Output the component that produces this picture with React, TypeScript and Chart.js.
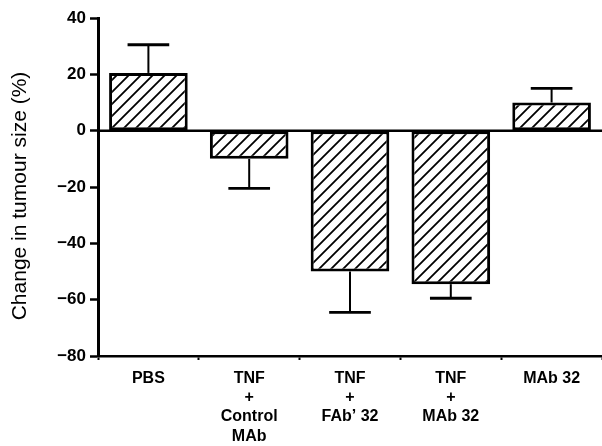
import React, { useEffect, useRef } from "react";
import { Chart, registerables } from "chart.js";
Chart.register(...registerables);

const categories: string[][] = [
  ["PBS"],
  ["TNF", "+", "Control", "MAb"],
  ["TNF", "+", "FAb\u2019 32"],
  ["TNF", "+", "MAb 32"],
  ["MAb 32"],
];
const meanChange = [20.5, -10, -50, -54.5, 10];
const errorEnd = [30.5, -20.5, -64.5, -59.5, 15];
const yMin = -80;
const yMax = 40;
const yStep = 20;
const yTitle = "Change in tumour size (%)";

const FONT = "'Liberation Sans', Arial, Helvetica, sans-serif";

function makeHatch(): CanvasPattern | string {
  const s = 12;
  const c = document.createElement("canvas");
  c.width = s;
  c.height = s;
  const g = c.getContext("2d");
  if (!g) return "#fff";
  g.fillStyle = "#fff";
  g.fillRect(0, 0, s, s);
  g.strokeStyle = "#000";
  g.lineWidth = 1.8;
  g.beginPath();
  g.moveTo(-2, s + 2);
  g.lineTo(s + 2, -2);
  g.moveTo(-2, 2);
  g.lineTo(2, -2);
  g.moveTo(s - 2, s + 2);
  g.lineTo(s + 2, s - 2);
  g.stroke();
  const p = g.createPattern(c, "repeat");
  return p || "#fff";
}

const errorPlugin = {
  id: "errorBarsAndZero",
  afterDatasetsDraw(chart: any) {
    const { ctx, scales } = chart;
    const y = scales.y;
    const meta = chart.getDatasetMeta(0);
    ctx.save();
    ctx.strokeStyle = "#000";
    const yz = y.getPixelForValue(0);
    ctx.lineWidth = 2.5;
    ctx.beginPath();
    ctx.moveTo(chart.chartArea.left, yz);
    ctx.lineTo(chart.chartArea.right, yz);
    ctx.stroke();
    meta.data.forEach((bar: any, i: number) => {
      const y0 = y.getPixelForValue(meanChange[i]);
      const y1 = y.getPixelForValue(errorEnd[i]);
      const cx = bar.x;
      const half = bar.width * 0.265;
      ctx.lineWidth = 2;
      ctx.beginPath();
      ctx.moveTo(cx, y0);
      ctx.lineTo(cx, y1);
      ctx.stroke();
      ctx.lineWidth = 2.8;
      ctx.beginPath();
      ctx.moveTo(cx - half, y1);
      ctx.lineTo(cx + half, y1);
      ctx.stroke();
    });
    ctx.restore();
  },
};

const yTitlePlugin = {
  id: "yTitle",
  afterDraw(chart: any) {
    const { ctx, chartArea } = chart;
    ctx.save();
    ctx.translate(chartArea.left - 72, (chartArea.top + chartArea.bottom) / 2 + 9);
    ctx.rotate(-Math.PI / 2);
    ctx.fillStyle = "#000";
    ctx.font = `21px ${FONT}`;
    ctx.textAlign = "center";
    ctx.textBaseline = "alphabetic";
    ctx.fillText(yTitle, 0, 0);
    ctx.restore();
  },
};

export default function App() {
  const ref = useRef<HTMLCanvasElement | null>(null);
  useEffect(() => {
    document.body.style.margin = "0";
    if (!ref.current) return;
    const hatch = makeHatch();
    const chart = new Chart(ref.current, {
      type: "bar",
      data: {
        labels: categories,
        datasets: [
          {
            data: meanChange,
            backgroundColor: hatch as any,
            borderColor: "#000",
            borderWidth: 3,
            borderSkipped: false,
            categoryPercentage: 1,
            barPercentage: 0.78,
          },
        ],
      },
      options: {
        animation: false,
        responsive: true,
        maintainAspectRatio: false,
        layout: { padding: { top: 18, right: 0, left: 0, bottom: 0 } },
        plugins: { legend: { display: false }, tooltip: { enabled: false } },
        scales: {
          x: {
            offset: true,
            grid: {
              offset: true,
              drawOnChartArea: false,
              tickLength: 4,
              tickWidth: 2,
              tickColor: "#000",
            },
            border: { display: true, color: "#000", width: 2.5 },
            ticks: {
              color: "#000",
              padding: 9,
              maxRotation: 0,
              autoSkip: false,
              font: { family: FONT, size: 16, weight: "bold", lineHeight: 1.2 },
            },
            afterFit(scale: any) {
              scale.height = 90;
            },
          },
          y: {
            min: yMin,
            max: yMax,
            ticks: {
              stepSize: yStep,
              color: "#000",
              padding: 4,
              font: { family: FONT, size: 17, weight: "bold" },
              callback: (v: any) => String(v).replace("-", "\u2212"),
            },
            grid: {
              drawOnChartArea: false,
              tickLength: 8,
              tickWidth: 2.5,
              tickColor: "#000",
            },
            border: { display: true, color: "#000", width: 3 },
            title: { display: false },
            afterFit(scale: any) {
              scale.width = 98;
            },
          },
        },
      },
      plugins: [errorPlugin, yTitlePlugin],
    });
    return () => chart.destroy();
  }, []);
  return (
    <div style={{ position: "relative", width: 602, height: 446 }}>
      <canvas ref={ref} />
    </div>
  );
}
